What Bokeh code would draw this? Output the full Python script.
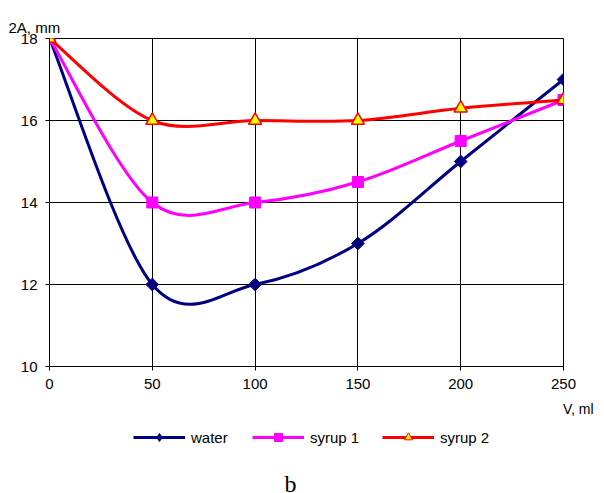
import numpy as np
from bokeh.plotting import figure
from bokeh.layouts import column
from bokeh.models import Label, Legend, LegendItem, FixedTicker, Range1d, ColumnDataSource, Title
from bokeh.embed import file_html
from bokeh.resources import INLINE

# ---- data ----
volume = [0, 50, 100, 150, 200, 250]
water = [18, 12, 12, 13, 15, 17]
syrup1 = [18, 14, 14, 14.5, 15.5, 16.5]
syrup2 = [18, 16, 16, 16, 16.3, 16.5]
x_ticks = [0, 50, 100, 150, 200, 250]
y_ticks = [10, 12, 14, 16, 18]
series_names = ["water", "syrup 1", "syrup 2"]

FONT = "Liberation Sans"
W, H_TOP, H_BOT = 604, 430, 63

p = figure(width=W, height=H_TOP, output_backend="svg", toolbar_location=None,
           x_range=Range1d(0, 250), y_range=Range1d(10, 18),
           min_border_left=49, min_border_right=41, min_border_top=38, min_border_bottom=64)
p.background_fill_color = "white"
p.border_fill_color = "white"
p.outline_line_color = "black"
p.outline_line_width = 1

p.title.text = "2A, mm"
p.title.align = "left"
p.title.offset = -41
p.title.standoff = 6
p.title.text_font = FONT
p.title.text_font_size = "15px"
p.title.text_font_style = "normal"
p.title.text_color = "black"

for ax in (p.xaxis[0], p.yaxis[0]):
    ax.axis_line_color = "black"
    ax.major_tick_line_color = "black"
    ax.major_tick_out = 4
    ax.major_tick_in = 0
    ax.minor_tick_line_color = None
    ax.major_label_text_font = FONT
    ax.major_label_text_font_size = "15px"
    ax.major_label_text_color = "black"
    ax.major_label_standoff = 8
p.xaxis[0].ticker = FixedTicker(ticks=x_ticks)
p.yaxis[0].ticker = FixedTicker(ticks=y_ticks)
p.xgrid.grid_line_color = "black"
p.ygrid.grid_line_color = "black"
p.xgrid.ticker = FixedTicker(ticks=x_ticks)
p.ygrid.ticker = FixedTicker(ticks=y_ticks)

p.add_layout(Title(text="V, ml", align="right", offset=-30, standoff=15,
                   text_font=FONT, text_font_size="14px", text_font_style="normal",
                   text_color="black"), "below")


def bezier_src(xs, ys):
    xs = np.asarray(xs, float)
    ys = np.asarray(ys, float)
    n = len(xs)
    xp = np.concatenate([[xs[0]], xs, [xs[-1]]])
    yp = np.concatenate([[ys[0]], ys, [ys[-1]]])
    d = dict(x0=[], y0=[], x1=[], y1=[], cx0=[], cy0=[], cx1=[], cy1=[])
    for i in range(n - 1):
        j = i + 1
        d["x0"].append(xp[j]); d["y0"].append(yp[j])
        d["x1"].append(xp[j + 1]); d["y1"].append(yp[j + 1])
        d["cx0"].append(xp[j] + (xp[j + 1] - xp[j - 1]) / 6)
        d["cy0"].append(yp[j] + (yp[j + 1] - yp[j - 1]) / 6)
        d["cx1"].append(xp[j + 1] - (xp[j + 2] - xp[j]) / 6)
        d["cy1"].append(yp[j + 1] - (yp[j + 2] - yp[j]) / 6)
    return ColumnDataSource(d)


styles = [
    (water, "#000080",
     dict(marker="square", angle=np.pi / 4, size=9, fill_color="#000080", line_color="#000080"),
     dict(marker="diamond", fill_color="#000080", line_color="#000080")),
    (syrup1, "#FF00FF",
     dict(marker="square", size=11, fill_color="#FF00FF", line_color="#FF00FF"),
     dict(marker="square", fill_color="#FF00FF", line_color="#FF00FF")),
    (syrup2, "#FF0000",
     dict(marker="triangle", size=13, fill_color="#FFFF00", line_color="#FF0000", line_width=1.5),
     dict(marker="triangle", fill_color="#FFFF00", line_color="#FF0000", line_width=1)),
]

# lower strip: legend and caption (its data lies outside its ranges, so only the legend shows)
q = figure(width=W, height=H_BOT, output_backend="svg", toolbar_location=None,
           x_range=Range1d(0, 1), y_range=Range1d(0, 1),
           x_axis_location=None, y_axis_location=None,
           min_border_left=0, min_border_right=0, min_border_top=0, min_border_bottom=0)
q.outline_line_color = None
q.grid.visible = False
q.background_fill_color = "white"
q.border_fill_color = "white"

legend_x = [84, 203, 333]
for name, (ys, col, mk, lmk), lx in zip(series_names, styles, legend_x):
    p.bezier(x0="x0", y0="y0", x1="x1", y1="y1", cx0="cx0", cy0="cy0", cx1="cx1", cy1="cy1",
             source=bezier_src(volume, ys), line_color=col, line_width=3)
    p.scatter(volume, ys, **mk)
    lr = q.line(volume, ys, line_color=col, line_width=3)
    sr = q.scatter(volume, ys, **lmk)
    q.add_layout(Legend(items=[LegendItem(label=name, renderers=[lr, sr])], location=(lx, 46),
                        glyph_width=52, glyph_height=20, label_height=20, label_standoff=6,
                        padding=0, margin=0, border_line_color=None, background_fill_alpha=0,
                        label_text_font=FONT, label_text_font_size="15px", label_text_color="black"))

q.add_layout(Label(x=241, y=10, x_units="screen", y_units="screen", text="b", text_align="center",
                   text_font="Liberation Serif", text_font_size="24px", text_baseline="middle",
                   text_color="black"))

layout = column(p, q, spacing=0)
open("out.html", "w").write(file_html(layout, INLINE))
